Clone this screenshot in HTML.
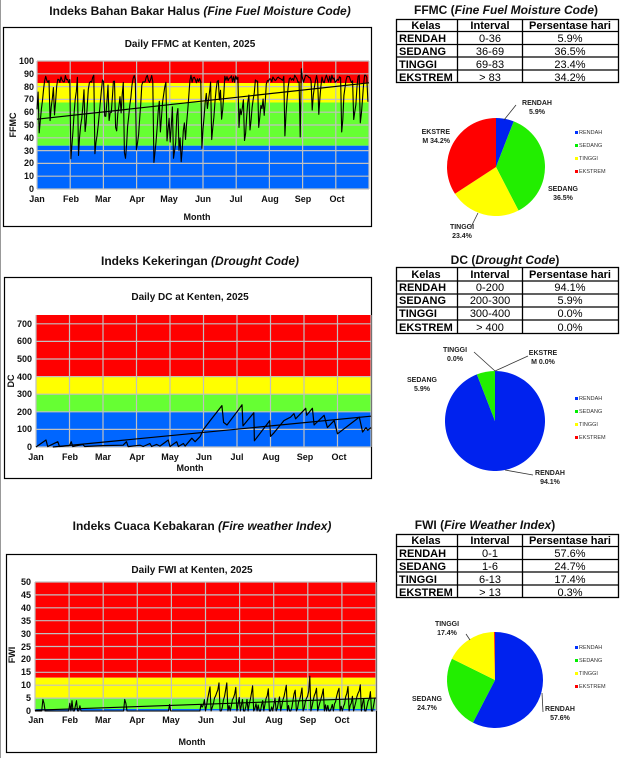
<!DOCTYPE html>
<html><head><meta charset="utf-8"><style>
html,body{margin:0;padding:0;background:#fff;width:620px;height:758px;overflow:hidden}
svg{display:block;font-family:"Liberation Sans",sans-serif}
.t1{font-size:12px;font-weight:bold;fill:#111}
.ct{font-size:10px;font-weight:bold;fill:#111}
.tk{font-size:9px;font-weight:bold;fill:#111}
.tb{font-size:11px;fill:#000}
.tbb{font-size:11px;font-weight:bold;fill:#000}
.pl{font-size:7px;font-weight:bold;fill:#222}
.lg{font-size:5.5px;fill:#333}
</style></head><body>
<svg id="s" width="620" height="758" viewBox="0 0 620 758">
<line x1="0.5" y1="0" x2="0.5" y2="758" stroke="#999"/>
<!-- ===== Chart 1 FFMC ===== -->
<text class="t1" x="200" y="15" text-anchor="middle">Indeks Bahan Bakar Halus <tspan font-style="italic">(Fine Fuel Moisture Code)</tspan></text>
<rect x="3.5" y="27.5" width="368" height="199" fill="#fff" stroke="#000" stroke-width="1.2"/>
<text class="ct" x="190" y="47" text-anchor="middle">Daily FFMC at Kenten, 2025</text>
<rect x="37" y="61" width="332" height="22" fill="#ff0000"/>
<rect x="37" y="83" width="332" height="19.5" fill="#ffff00"/>
<rect x="37" y="102.5" width="332" height="43.2" fill="#66ff33"/>
<rect x="37" y="145.7" width="332" height="43.3" fill="#0066ff"/>
<g id="g1" stroke="#c0c0c0" stroke-width="1.2"></g>
<g class="tk" text-anchor="end">
<text x="34" y="64">100</text><text x="34" y="77">90</text><text x="34" y="90">80</text><text x="34" y="102">70</text><text x="34" y="115">60</text><text x="34" y="128">50</text><text x="34" y="141">40</text><text x="34" y="154">30</text><text x="34" y="166">20</text><text x="34" y="179">10</text><text x="34" y="192">0</text>
</g>
<g class="tk" text-anchor="middle">
<text x="37" y="202">Jan</text><text x="71" y="202">Feb</text><text x="103" y="202">Mar</text><text x="137" y="202">Apr</text><text x="169" y="202">May</text><text x="203" y="202">Jun</text><text x="236" y="202">Jul</text><text x="270" y="202">Aug</text><text x="303" y="202">Sep</text><text x="337" y="202">Oct</text>
</g>
<text class="tk" x="197" y="220" text-anchor="middle">Month</text>
<text class="tk" x="0" y="0" text-anchor="middle" transform="translate(16,125) rotate(-90)">FFMC</text>
<g id="d1"></g>

<!-- ===== Chart 2 DC ===== -->
<text class="t1" x="200" y="265" text-anchor="middle">Indeks Kekeringan <tspan font-style="italic">(Drought Code)</tspan></text>
<rect x="4.5" y="277.5" width="367" height="201" fill="#fff" stroke="#000" stroke-width="1.2"/>
<text class="ct" x="190" y="300" text-anchor="middle">Daily DC at Kenten, 2025</text>
<rect x="36" y="315" width="335" height="61.6" fill="#ff0000"/>
<rect x="36" y="376.6" width="335" height="17.6" fill="#ffff00"/>
<rect x="36" y="394.2" width="335" height="17.6" fill="#66ff33"/>
<rect x="36" y="411.8" width="335" height="35.2" fill="#0066ff"/>
<g id="g2" stroke="#c0c0c0" stroke-width="1.2"></g>
<g class="tk" text-anchor="end">
<text x="32" y="327">700</text><text x="32" y="344">600</text><text x="32" y="362">500</text><text x="32" y="380">400</text><text x="32" y="397">300</text><text x="32" y="415">200</text><text x="32" y="432">100</text><text x="32" y="450">0</text>
</g>
<g class="tk" text-anchor="middle">
<text x="36" y="460">Jan</text><text x="70" y="460">Feb</text><text x="103" y="460">Mar</text><text x="137" y="460">Apr</text><text x="170" y="460">May</text><text x="204" y="460">Jun</text><text x="237" y="460">Jul</text><text x="271" y="460">Aug</text><text x="305" y="460">Sep</text><text x="339" y="460">Oct</text>
</g>
<text class="tk" x="190" y="471" text-anchor="middle">Month</text>
<text class="tk" x="0" y="0" text-anchor="middle" transform="translate(14,381) rotate(-90)">DC</text>
<g id="d2"></g>

<!-- ===== Chart 3 FWI ===== -->
<text class="t1" x="202" y="530" text-anchor="middle">Indeks Cuaca Kebakaran <tspan font-style="italic">(Fire weather Index)</tspan></text>
<rect x="6.5" y="554.5" width="370" height="198" fill="#fff" stroke="#000" stroke-width="1.2"/>
<text class="ct" x="192" y="573" text-anchor="middle">Daily FWI at Kenten, 2025</text>
<rect x="35" y="582" width="341" height="95.7" fill="#ff0000"/>
<rect x="35" y="677.7" width="341" height="20.3" fill="#ffff00"/>
<rect x="35" y="698" width="341" height="11" fill="#66ff33"/>
<rect x="35" y="709" width="341" height="2" fill="#0066ff"/>
<g id="g3" stroke="#c0c0c0" stroke-width="1.2"></g>
<g class="tk" text-anchor="end">
<text x="31" y="585">50</text><text x="31" y="598">45</text><text x="31" y="611">40</text><text x="31" y="624">35</text><text x="31" y="637">30</text><text x="31" y="650">25</text><text x="31" y="662">20</text><text x="31" y="675">15</text><text x="31" y="688">10</text><text x="31" y="701">5</text><text x="31" y="714">0</text>
</g>
<g class="tk" text-anchor="middle">
<text x="36" y="723">Jan</text><text x="70" y="723">Feb</text><text x="103" y="723">Mar</text><text x="137" y="723">Apr</text><text x="171" y="723">May</text><text x="206" y="723">Jun</text><text x="239" y="723">Jul</text><text x="274" y="723">Aug</text><text x="308" y="723">Sep</text><text x="342" y="723">Oct</text>
</g>
<text class="tk" x="192" y="745" text-anchor="middle">Month</text>
<text class="tk" x="0" y="0" text-anchor="middle" transform="translate(15,655) rotate(-90)">FWI</text>
<g id="d3"></g>

<!-- ===== Tables ===== -->
<g stroke="#000" stroke-width="1.3" fill="none">
<rect x="396.5" y="19.5" width="222" height="63"/>
<line x1="396" y1="31.5" x2="619" y2="31.5"/><line x1="396" y1="44.5" x2="619" y2="44.5"/><line x1="396" y1="57" x2="619" y2="57"/><line x1="396" y1="70" x2="619" y2="70"/>
<line x1="457.5" y1="19" x2="457.5" y2="83"/><line x1="522.5" y1="19" x2="522.5" y2="83"/>
<rect x="396.5" y="267.5" width="222" height="66"/>
<line x1="396" y1="281" x2="619" y2="281"/><line x1="396" y1="294" x2="619" y2="294"/><line x1="396" y1="307" x2="619" y2="307"/><line x1="396" y1="320" x2="619" y2="320"/>
<line x1="457.5" y1="267" x2="457.5" y2="334"/><line x1="522.5" y1="267" x2="522.5" y2="334"/>
<rect x="396.5" y="534.5" width="222" height="63"/>
<line x1="396" y1="546.5" x2="619" y2="546.5"/><line x1="396" y1="559.5" x2="619" y2="559.5"/><line x1="396" y1="572" x2="619" y2="572"/><line x1="396" y1="585" x2="619" y2="585"/>
<line x1="457.5" y1="534" x2="457.5" y2="598"/><line x1="522.5" y1="534" x2="522.5" y2="598"/>
</g>
<text class="t1" x="506" y="14" text-anchor="middle" fill="#000">FFMC (<tspan font-style="italic">Fine Fuel Moisture Code</tspan>)</text>
<g class="tbb"><text x="426" y="29" text-anchor="middle">Kelas</text><text x="399" y="42">RENDAH</text><text x="399" y="55">SEDANG</text><text x="399" y="68">TINGGI</text><text x="399" y="81">EKSTREM</text></g>
<g class="tbb" text-anchor="middle"><text x="490" y="29">Interval</text><text x="570" y="29">Persentase hari</text></g>
<g class="tb" text-anchor="middle"><text x="490" y="42">0-36</text><text x="490" y="55">36-69</text><text x="490" y="68">69-83</text><text x="490" y="81">&gt; 83</text>
<text x="570" y="42">5.9%</text><text x="570" y="55">36.5%</text><text x="570" y="68">23.4%</text><text x="570" y="81">34.2%</text></g>

<text class="t1" x="505" y="264" text-anchor="middle" fill="#000">DC (<tspan font-style="italic">Drought Code</tspan>)</text>
<g class="tbb"><text x="426" y="278" text-anchor="middle">Kelas</text><text x="399" y="291">RENDAH</text><text x="399" y="304">SEDANG</text><text x="399" y="317">TINGGI</text><text x="399" y="331">EKSTREM</text></g>
<g class="tbb" text-anchor="middle"><text x="490" y="278">Interval</text><text x="570" y="278">Persentase hari</text></g>
<g class="tb" text-anchor="middle"><text x="490" y="291">0-200</text><text x="490" y="304">200-300</text><text x="490" y="317">300-400</text><text x="490" y="331">&gt; 400</text>
<text x="570" y="291">94.1%</text><text x="570" y="304">5.9%</text><text x="570" y="317">0.0%</text><text x="570" y="331">0.0%</text></g>

<text class="t1" x="485" y="529" text-anchor="middle" fill="#000">FWI (<tspan font-style="italic">Fire Weather Index</tspan>)</text>
<g class="tbb"><text x="426" y="544" text-anchor="middle">Kelas</text><text x="399" y="557">RENDAH</text><text x="399" y="570">SEDANG</text><text x="399" y="583">TINGGI</text><text x="399" y="596">EKSTREM</text></g>
<g class="tbb" text-anchor="middle"><text x="490" y="544">Interval</text><text x="570" y="544">Persentase hari</text></g>
<g class="tb" text-anchor="middle"><text x="490" y="557">0-1</text><text x="490" y="570">1-6</text><text x="490" y="583">6-13</text><text x="490" y="596">&gt; 13</text>
<text x="570" y="557">57.6%</text><text x="570" y="570">24.7%</text><text x="570" y="583">17.4%</text><text x="570" y="596">0.3%</text></g>

<!-- pies -->
<g id="p"></g>
<g class="pl" text-anchor="middle">
<text x="537" y="105">RENDAH</text><text x="537" y="114">5.9%</text>
<text x="450" y="134" text-anchor="end">EKSTRE</text><text x="450" y="143" text-anchor="end">M 34.2%</text>
<text x="563" y="191">SEDANG</text><text x="563" y="200">36.5%</text>
<text x="462" y="229">TINGGI</text><text x="462" y="238">23.4%</text>
<text x="455" y="352">TINGGI</text><text x="455" y="361">0.0%</text>
<text x="543" y="355">EKSTRE</text><text x="543" y="364">M 0.0%</text>
<text x="422" y="382">SEDANG</text><text x="422" y="391">5.9%</text>
<text x="550" y="475">RENDAH</text><text x="550" y="484">94.1%</text>
<text x="447" y="626">TINGGI</text><text x="447" y="635">17.4%</text>
<text x="427" y="701">SEDANG</text><text x="427" y="710">24.7%</text>
<text x="560" y="711">RENDAH</text><text x="560" y="720">57.6%</text>
</g>
<g stroke="#333" stroke-width="0.8" fill="none">
<line x1="504" y1="120" x2="516" y2="105"/><line x1="478" y1="213" x2="471" y2="227"/>
<line x1="495" y1="371" x2="474" y2="352"/><line x1="495" y1="371" x2="528" y2="356"/><line x1="505" y1="470" x2="533" y2="475"/>
<line x1="470" y1="640" x2="466" y2="634"/><line x1="542" y1="693" x2="543" y2="712"/>
</g>
<g class="lg">
<rect x="575" y="131" width="3" height="3" fill="#0033ff"/><text x="579" y="134">RENDAH</text>
<rect x="575" y="144" width="3" height="3" fill="#00ee00"/><text x="579" y="147">SEDANG</text>
<rect x="575" y="157" width="3" height="3" fill="#ffff00"/><text x="579" y="160">TINGGI</text>
<rect x="575" y="170" width="3" height="3" fill="#ff0000"/><text x="579" y="173">EKSTREM</text>
<rect x="575" y="397" width="3" height="3" fill="#0033ff"/><text x="579" y="400">RENDAH</text>
<rect x="575" y="410" width="3" height="3" fill="#00ee00"/><text x="579" y="413">SEDANG</text>
<rect x="575" y="423" width="3" height="3" fill="#ffff00"/><text x="579" y="426">TINGGI</text>
<rect x="575" y="436" width="3" height="3" fill="#ff0000"/><text x="579" y="439">EKSTREM</text>
<rect x="575" y="646" width="3" height="3" fill="#0033ff"/><text x="579" y="649">RENDAH</text>
<rect x="575" y="659" width="3" height="3" fill="#00ee00"/><text x="579" y="662">SEDANG</text>
<rect x="575" y="672" width="3" height="3" fill="#ffff00"/><text x="579" y="675">TINGGI</text>
<rect x="575" y="685" width="3" height="3" fill="#ff0000"/><text x="579" y="688">EKSTREM</text>
</g>
</svg>
<script>
var NS="http://www.w3.org/2000/svg";
function el(p,t,a){var e=document.createElementNS(NS,t);for(var k in a)e.setAttribute(k,a[k]);document.getElementById(p).appendChild(e);return e;}
function rnd(s){return function(){s|=0;s=s+0x6D2B79F5|0;var t=Math.imul(s^s>>>15,1|s);t=t+Math.imul(t^t>>>7,61|t)^t;return((t^t>>>14)>>>0)/4294967296;}}
function grid(id,x0,x1,y0,y1,ny){for(var m=0;m<=10;m++){var x=x0+(x1-x0)*m/10;el(id,"line",{x1:x,x2:x,y1:y0,y2:y1});}
 for(var k=0;k<=ny;k++){var y=y1-(y1-y0)*k/ny;el(id,"line",{x1:x0,x2:x1,y1:y,y2:y});}}
grid("g1",37,369,61,189,10);grid("g2",36,371,315,447,7.5);grid("g3",35,376,582,711,10);
function line(id,pts,w){el(id,"polyline",{points:pts.map(function(p){return p[0].toFixed(1)+","+p[1].toFixed(1)}).join(" "),fill:"none",stroke:"#000","stroke-width":w||1.2,"stroke-linejoin":"round"});}
// FFMC
var R=rnd(11),N=304,v=52,p=[];
for(var d=0;d<N;d++){var f=d/N,pd=0.2-0.08*f;
 if(R()<pd){v=(f<0.5?20+R()*45:35+R()*40);} else {v=Math.min(v+5+R()*10,83+R()*6);} if(d==242)v=94;
 p.push([37+332*d/N,189-1.28*v]);}
line("d1",p,1.1);line("d1",[[37,189-1.28*54.5],[369,189-1.28*83]],1.2);
// DC
var k=[[0,0],[.3,40],[.35,2],[.65,30],[.7,3],[1,8],[1.05,30],[1.1,2],[1.4,15],[1.45,3],[2,8],[2.6,10],[2.7,30],[2.75,2],[3.1,10],[3.2,3],[3.4,20],[3.45,3],[3.6,15],[3.7,5],[3.95,40],[4.0,3],[4.2,30],[4.25,3],[4.4,20],[4.45,5],[4.65,50],[4.75,30],[4.9,60],[5.0,100],[5.2,150],[5.55,235],[5.6,140],[5.7,125],[6.0,200],[6.15,240],[6.18,120],[6.5,195],[6.52,35],[6.9,130],[6.98,150],[7.0,60],[7.1,80],[7.4,150],[7.5,160],[7.6,170],[7.7,190],[7.75,160],[8.05,220],[8.08,180],[8.25,220],[8.3,125],[8.6,180],[8.7,110],[8.9,150],[9.0,75],[9.65,170],[9.75,85],[9.85,110],[9.9,95],[10,110]];
line("d2",k.map(function(q){return[36+33.5*q[0],447-0.176*q[1]]}),1.2);
line("d2",[[36+33.5*0.5,447],[371,447-0.176*175]],1.2);
// FWI
var R3=rnd(5),w=0,q=[];
var bumps={7:4.5,8:3,31:3,33:4,36:2,37:4,40:2,80:4.5,81:3,120:2.5,148:2.5,149:1.5};
for(var d=0;d<N;d++){var y;
 if(d<150){y=bumps[d]||0;}
 else{ if(R3()<0.16||w>8.5){w=0;} else w=w+0.8+R3()*2; y=w; if(d==245)y=13.5;}
 q.push([35+341*d/N,711-2.58*y]);}
line("d3",q,1.1);line("d3",[[35,711-2.58*0.3],[376,711-2.58*5]],1.1);
// pies
function pie(cx,cy,r,fr,col){var a=-Math.PI/2;for(var i=0;i<fr.length;i++){if(fr[i]<=0)continue;var b=a+fr[i]*2*Math.PI;
 var x1=cx+r*Math.cos(a),y1=cy+r*Math.sin(a),x2=cx+r*Math.cos(b),y2=cy+r*Math.sin(b);
 el("p","path",{d:"M"+cx+","+cy+"L"+x1+","+y1+"A"+r+","+r+" 0 "+(fr[i]>.5?1:0)+" 1 "+x2+","+y2+"Z",fill:col[i]});a=b;}}
var C=["#0022ee","#22ee00","#ffff00","#ff0000"];
pie(496,167,49,[.059,.365,.234,.342],C);
pie(495,421,50,[.941,.059,0,0],C);
pie(495,680,48,[.576,.247,.174,.003],C);
</script>
</body></html>
